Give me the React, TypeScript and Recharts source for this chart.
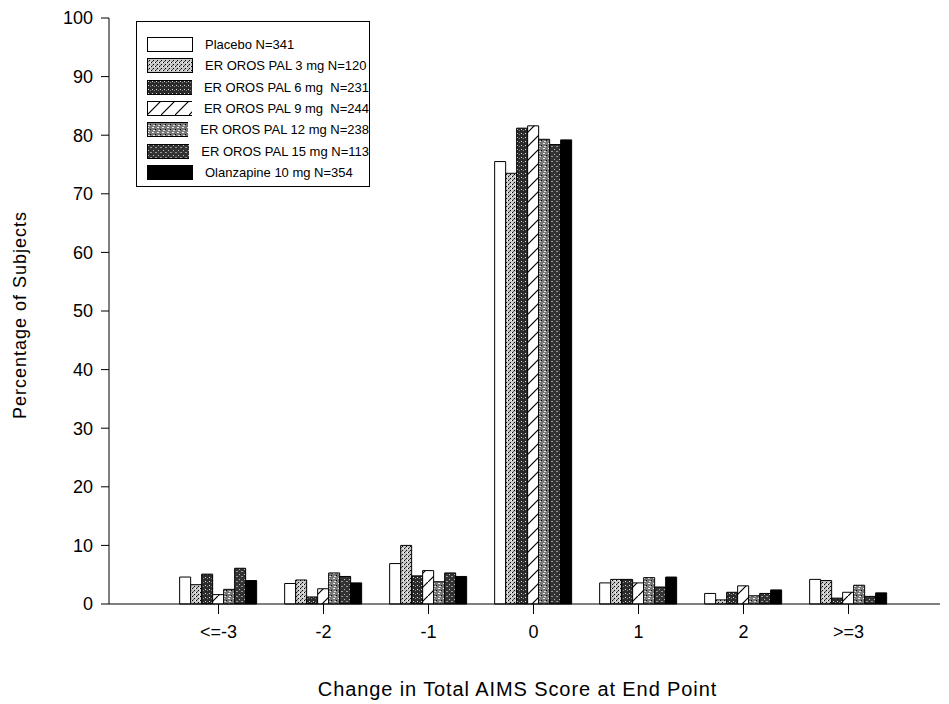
import { BarChart, Bar, XAxis, YAxis, Label } from "recharts";

const categories = ["<=-3", "-2", "-1", "0", "1", "2", ">=3"];
const yTicks = [0, 10, 20, 30, 40, 50, 60, 70, 80, 90, 100];

const placebo = [4.6, 3.5, 6.9, 75.5, 3.6, 1.8, 4.2];
const pal3 = [3.3, 4.1, 10.0, 73.5, 4.2, 0.7, 4.0];
const pal6 = [5.1, 1.2, 4.8, 81.2, 4.2, 2.0, 1.0];
const pal9 = [1.6, 2.6, 5.7, 81.6, 3.6, 3.1, 2.0];
const pal12 = [2.5, 5.3, 3.8, 79.3, 4.5, 1.4, 3.2];
const pal15 = [6.1, 4.7, 5.3, 78.4, 2.9, 1.8, 1.3];
const olanzapine = [4.0, 3.6, 4.7, 79.2, 4.6, 2.4, 1.9];

const seriesNames = [
  "Placebo N=341",
  "ER OROS PAL 3 mg N=120",
  "ER OROS PAL 6 mg  N=231",
  "ER OROS PAL 9 mg  N=244",
  "ER OROS PAL 12 mg N=238",
  "ER OROS PAL 15 mg N=113",
  "Olanzapine 10 mg N=354",
];

const data = categories.map((c, i) => ({
  cat: c,
  placebo: placebo[i],
  pal3: pal3[i],
  pal6: pal6[i],
  pal9: pal9[i],
  pal12: pal12[i],
  pal15: pal15[i],
  olanzapine: olanzapine[i],
}));

const series = [
  { key: "placebo", fill: "#ffffff" },
  { key: "pal3", fill: "url(#pLight)" },
  { key: "pal6", fill: "url(#pDark)" },
  { key: "pal9", fill: "url(#pHatch)" },
  { key: "pal12", fill: "url(#pMid)" },
  { key: "pal15", fill: "url(#pDark2)" },
  { key: "olanzapine", fill: "#000000" },
];

const font = "'Liberation Sans', Arial, sans-serif";

function Patterns() {
  return (
    <svg width={0} height={0} style={{ position: "absolute" }}>
      <defs>
        <pattern id="pLight" width={4} height={4} patternUnits="userSpaceOnUse">
          <rect width={4} height={4} fill="#c8c8c8" />
          <rect x={0} y={0} width={1} height={1} fill="#000" />
          <rect x={2} y={2} width={1} height={1} fill="#000" />
          <rect x={3} y={0} width={1} height={1} fill="#fff" />
          <rect x={1} y={3} width={1} height={1} fill="#555" />
        </pattern>
        <pattern id="pDark" width={4} height={4} patternUnits="userSpaceOnUse">
          <rect width={4} height={4} fill="#2a2a2a" />
          <rect x={1} y={1} width={1} height={1} fill="#ddd" />
          <rect x={3} y={2} width={1} height={1} fill="#888" />
        </pattern>
        <pattern id="pHatch" width={14} height={14} patternUnits="userSpaceOnUse">
          <rect width={14} height={14} fill="#fff" />
          <line x1={0} y1={14} x2={14} y2={0} stroke="#000" strokeWidth={1.2} />
        </pattern>
        <pattern id="pMid" width={5} height={5} patternUnits="userSpaceOnUse">
          <rect width={5} height={5} fill="#777" />
          <rect x={0} y={0} width={2} height={1} fill="#eee" />
          <rect x={3} y={2} width={1} height={1} fill="#000" />
          <rect x={1} y={3} width={2} height={1} fill="#ddd" />
        </pattern>
        <pattern id="pDark2" width={5} height={5} patternUnits="userSpaceOnUse">
          <rect width={5} height={5} fill="#333" />
          <rect x={1} y={1} width={1} height={1} fill="#bbb" />
          <rect x={3} y={3} width={2} height={1} fill="#999" />
        </pattern>
      </defs>
    </svg>
  );
}

function ChartLegend() {
  return (
    <div
      style={{
        position: "absolute",
        left: 128,
        top: 13,
        border: "1px solid #000",
        background: "#fff",
        width: 222,
        padding: "12px 0 3px 10px",
        fontFamily: font,
        fontSize: 13,
        color: "#000",
      }}
    >
      {series.map((s, i) => (
        <div key={s.key} style={{ display: "flex", alignItems: "center", height: 21.3 }}>
          <svg width={46} height={15} style={{ marginRight: 12 }}>
            <rect x={0.5} y={0.5} width={45} height={14} fill={s.fill} stroke="#000" />
          </svg>
          <span style={{ whiteSpace: "pre" }}>{seriesNames[i]}</span>
        </div>
      ))}
    </div>
  );
}

export default function App() {
  return (
    <div style={{ position: "relative", width: 940, height: 694 }}>
      <Patterns />
      <BarChart
        width={940}
        height={694}
        data={data}
        margin={{ top: 10, right: 8, bottom: 0, left: 0 }}
        barCategoryGap="13%"
        barGap={0}
      >
        <XAxis
          dataKey="cat"
          height={98}
          padding={{ left: 57, right: 39 }}
          tickSize={10}
          tickMargin={11}
          axisLine={{ stroke: "#000" }}
          tickLine={{ stroke: "#000" }}
          tick={{ fill: "#000", fontSize: 18, fontFamily: font }}
        >
          <Label
            value="Change in Total AIMS Score at End Point"
            position="insideBottom"
            offset={6}
            dx={-7}
            style={{ fill: "#000", fontSize: 20, letterSpacing: 0.9, fontFamily: font }}
          />
        </XAxis>
        <YAxis
          width={101}
          domain={[0, 100]}
          ticks={yTicks}
          interval={0}
          tickSize={8}
          tickMargin={8}
          axisLine={{ stroke: "#000" }}
          tickLine={{ stroke: "#000" }}
          tick={{ fill: "#000", fontSize: 18, fontFamily: font }}
        >
          <Label
            content={({ viewBox }: any) => {
              const cx = 12;
              const cy = viewBox.y + viewBox.height / 2 + 4;
              return (
                <text
                  x={cx}
                  y={cy}
                  transform={`rotate(-90 ${cx} ${cy})`}
                  textAnchor="middle"
                  dominantBaseline="central"
                  style={{ fill: "#000", fontSize: 18, letterSpacing: 1, fontFamily: font }}
                >
                  Percentage of Subjects
                </text>
              );
            }}
          />
        </YAxis>
        {series.map((s) => (
          <Bar
            key={s.key}
            dataKey={s.key}
            fill={s.fill}
            stroke="#000"
            strokeWidth={1}
            isAnimationActive={false}
          />
        ))}
      </BarChart>
      <ChartLegend />
    </div>
  );
}
